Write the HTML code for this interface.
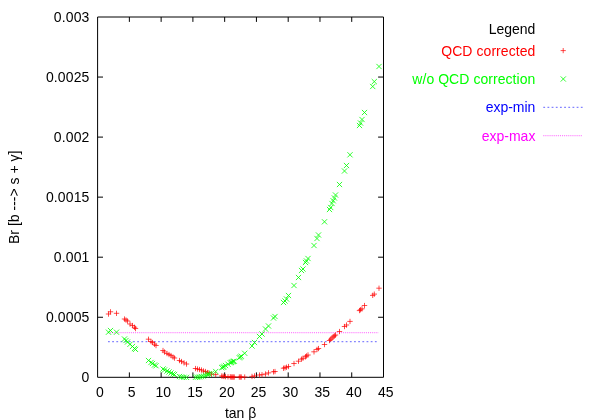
<!DOCTYPE html>
<html><head><meta charset="utf-8"><title>Br [b -> s + gamma] vs tan beta</title>
<style>html,body{margin:0;padding:0;background:#fff;}body{width:600px;height:420px;overflow:hidden;}svg{display:block;will-change:transform;opacity:0.999;}text{font-family:"Liberation Sans",sans-serif;font-size:14px;}</style>
</head><body>
<svg width="600" height="420" viewBox="0 0 600 420">
<rect x="0" y="0" width="600" height="420" fill="#ffffff"/>
<g fill="none" stroke-width="1.2">
<path d="M108 332.7H378.6" stroke="#ff30ff" stroke-dasharray="1.04 1.04" stroke-opacity="0.62"/>
<path d="M108 341.7H378.6" stroke="#3030ff" stroke-dasharray="1.8 2.37" stroke-opacity="0.6"/>
</g>
<path d="M97.6 17.0H383.5V377.3H97.6ZM129.37 377.3v-4.9M129.37 17.0v4.9M161.13 377.3v-4.9M161.13 17.0v4.9M192.90 377.3v-4.9M192.90 17.0v4.9M224.67 377.3v-4.9M224.67 17.0v4.9M256.43 377.3v-4.9M256.43 17.0v4.9M288.20 377.3v-4.9M288.20 17.0v4.9M319.97 377.3v-4.9M319.97 17.0v4.9M351.73 377.3v-4.9M351.73 17.0v4.9M97.6 317.25h5.4M383.5 317.25h-5.4M97.6 257.20h5.4M383.5 257.20h-5.4M97.6 197.15h5.4M383.5 197.15h-5.4M97.6 137.10h5.4M383.5 137.10h-5.4M97.6 77.05h5.4M383.5 77.05h-5.4" fill="none" stroke="#000" stroke-width="1"/>
<path d="M105.8 314.0h5.4M108.5 311.4v5.3M107.8 311.8h5.4M110.5 309.2v5.3M113.8 313.3h5.4M116.5 310.7v5.3M121.8 319.0h5.4M124.5 316.4v5.3M123.3 320.0h5.4M126.0 317.4v5.3M124.8 321.0h5.4M127.5 318.4v5.3M127.3 324.0h5.4M130.0 321.4v5.3M129.8 325.5h5.4M132.5 322.9v5.3M131.8 327.2h5.4M134.5 324.6v5.3M132.8 328.5h5.4M135.5 325.9v5.3M145.8 339.2h5.4M148.5 336.6v5.3M148.3 341.5h5.4M151.0 338.9v5.3M149.8 342.5h5.4M152.5 339.9v5.3M151.8 344.2h5.4M154.5 341.6v5.3M153.3 345.5h5.4M156.0 342.9v5.3M160.3 350.5h5.4M163.0 347.9v5.3M161.8 352.0h5.4M164.5 349.4v5.3M164.3 353.5h5.4M167.0 350.9v5.3M166.3 354.5h5.4M169.0 351.9v5.3M168.3 355.5h5.4M171.0 352.9v5.3M170.3 357.0h5.4M173.0 354.4v5.3M171.8 358.0h5.4M174.5 355.4v5.3M176.8 360.5h5.4M179.5 357.9v5.3M178.8 361.5h5.4M181.5 358.9v5.3M181.3 362.8h5.4M184.0 360.2v5.3M183.8 364.0h5.4M186.5 361.4v5.3M192.8 368.5h5.4M195.5 365.9v5.3M194.8 369.0h5.4M197.5 366.4v5.3M196.8 369.5h5.4M199.5 366.9v5.3M198.8 370.0h5.4M201.5 367.4v5.3M200.8 371.0h5.4M203.5 368.4v5.3M202.8 371.5h5.4M205.5 368.9v5.3M204.8 372.5h5.4M207.5 369.9v5.3M206.3 373.0h5.4M209.0 370.4v5.3M208.8 374.0h5.4M211.5 371.4v5.3M213.0 374.6h5.4M215.7 372.0v5.3M219.0 376.0h5.4M221.7 373.4v5.3M220.3 376.2h5.4M223.0 373.6v5.3M221.3 376.4h5.4M224.0 373.8v5.3M222.8 376.6h5.4M225.5 374.0v5.3M225.3 376.8h5.4M228.0 374.2v5.3M227.6 376.9h5.4M230.3 374.2v5.3M228.6 377.0h5.4M231.3 374.4v5.3M229.6 377.0h5.4M232.3 374.4v5.3M230.6 377.0h5.4M233.3 374.4v5.3M231.6 377.0h5.4M234.3 374.4v5.3M236.6 377.0h5.4M239.3 374.4v5.3M237.6 377.0h5.4M240.3 374.4v5.3M238.6 377.0h5.4M241.3 374.4v5.3M242.0 377.0h5.4M244.7 374.4v5.3M249.3 376.4h5.4M252.0 373.8v5.3M251.8 375.9h5.4M254.5 373.3v5.3M256.8 375.0h5.4M259.5 372.4v5.3M259.3 374.7h5.4M262.0 372.1v5.3M262.8 374.0h5.4M265.5 371.4v5.3M265.8 372.9h5.4M268.5 370.2v5.3M270.8 371.8h5.4M273.5 369.2v5.3M272.3 371.5h5.4M275.0 368.9v5.3M280.8 368.2h5.4M283.5 365.6v5.3M282.3 367.8h5.4M285.0 365.2v5.3M283.8 367.2h5.4M286.5 364.6v5.3M285.8 366.5h5.4M288.5 363.9v5.3M291.3 363.5h5.4M294.0 360.9v5.3M295.8 361.2h5.4M298.5 358.6v5.3M298.8 359.2h5.4M301.5 356.5v5.3M300.3 358.3h5.4M303.0 355.6v5.3M302.8 356.8h5.4M305.5 354.2v5.3M303.8 355.9h5.4M306.5 353.3v5.3M305.3 355.0h5.4M308.0 352.3v5.3M311.3 351.8h5.4M314.0 349.2v5.3M314.3 349.5h5.4M317.0 346.8v5.3M315.8 348.5h5.4M318.5 345.9v5.3M321.8 344.5h5.4M324.5 341.9v5.3M326.8 340.5h5.4M329.5 337.9v5.3M328.0 339.3h5.4M330.7 336.7v5.3M329.3 338.0h5.4M332.0 335.4v5.3M330.5 336.9h5.4M333.2 334.2v5.3M331.7 335.9h5.4M334.4 333.2v5.3M332.8 335.0h5.4M335.5 332.4v5.3M336.8 331.5h5.4M339.5 328.9v5.3M341.8 326.5h5.4M344.5 323.9v5.3M343.8 325.0h5.4M346.5 322.4v5.3M347.3 321.4h5.4M350.0 318.8v5.3M356.8 310.6h5.4M359.5 307.9v5.3M357.8 309.8h5.4M360.5 307.1v5.3M359.3 308.8h5.4M362.0 306.2v5.3M361.8 305.5h5.4M364.5 302.9v5.3M370.0 295.4h5.4M372.7 292.7v5.3M371.6 294.1h5.4M374.3 291.5v5.3M376.3 288.2h5.4M379.0 285.6v5.3" fill="none" stroke="#ff0000" stroke-width="1" stroke-opacity="0.7"/>
<path d="M105.9 329.6l5.2 5.2M105.9 334.8l5.2 -5.2M107.9 327.9l5.2 5.2M107.9 333.1l5.2 -5.2M113.9 329.6l5.2 5.2M113.9 334.8l5.2 -5.2M121.9 336.4l5.2 5.2M121.9 341.6l5.2 -5.2M123.4 337.9l5.2 5.2M123.4 343.1l5.2 -5.2M124.9 339.4l5.2 5.2M124.9 344.6l5.2 -5.2M127.4 341.7l5.2 5.2M127.4 346.9l5.2 -5.2M129.9 343.9l5.2 5.2M129.9 349.1l5.2 -5.2M131.9 345.9l5.2 5.2M131.9 351.1l5.2 -5.2M132.9 346.8l5.2 5.2M132.9 352.0l5.2 -5.2M145.9 357.9l5.2 5.2M145.9 363.1l5.2 -5.2M148.4 359.9l5.2 5.2M148.4 365.1l5.2 -5.2M149.9 360.9l5.2 5.2M149.9 366.1l5.2 -5.2M151.9 362.4l5.2 5.2M151.9 367.6l5.2 -5.2M153.4 363.1l5.2 5.2M153.4 368.4l5.2 -5.2M160.4 366.4l5.2 5.2M160.4 371.6l5.2 -5.2M161.9 367.4l5.2 5.2M161.9 372.6l5.2 -5.2M164.4 368.4l5.2 5.2M164.4 373.6l5.2 -5.2M166.4 369.4l5.2 5.2M166.4 374.6l5.2 -5.2M168.4 370.4l5.2 5.2M168.4 375.6l5.2 -5.2M170.4 371.4l5.2 5.2M170.4 376.6l5.2 -5.2M171.9 371.9l5.2 5.2M171.9 377.1l5.2 -5.2M176.9 373.9l5.2 5.2M176.9 379.1l5.2 -5.2M178.9 374.4l5.2 5.2M178.9 379.6l5.2 -5.2M181.4 374.7l5.2 5.2M181.4 379.9l5.2 -5.2M183.9 374.8l5.2 5.2M183.9 380.0l5.2 -5.2M192.9 374.7l5.2 5.2M192.9 379.9l5.2 -5.2M194.9 374.6l5.2 5.2M194.9 379.8l5.2 -5.2M196.9 374.4l5.2 5.2M196.9 379.7l5.2 -5.2M198.9 374.0l5.2 5.2M198.9 379.2l5.2 -5.2M200.9 373.5l5.2 5.2M200.9 378.7l5.2 -5.2M202.9 372.6l5.2 5.2M202.9 377.9l5.2 -5.2M204.9 371.9l5.2 5.2M204.9 377.1l5.2 -5.2M206.4 371.4l5.2 5.2M206.4 376.6l5.2 -5.2M208.9 370.7l5.2 5.2M208.9 375.9l5.2 -5.2M213.1 368.9l5.2 5.2M213.1 374.1l5.2 -5.2M219.1 365.0l5.2 5.2M219.1 370.2l5.2 -5.2M220.4 364.6l5.2 5.2M220.4 369.8l5.2 -5.2M221.4 364.0l5.2 5.2M221.4 369.2l5.2 -5.2M222.9 362.9l5.2 5.2M222.9 368.1l5.2 -5.2M225.4 361.6l5.2 5.2M225.4 366.8l5.2 -5.2M227.7 360.2l5.2 5.2M227.7 365.5l5.2 -5.2M228.7 359.8l5.2 5.2M228.7 365.0l5.2 -5.2M229.7 359.2l5.2 5.2M229.7 364.5l5.2 -5.2M230.7 358.8l5.2 5.2M230.7 364.0l5.2 -5.2M231.7 358.6l5.2 5.2M231.7 363.8l5.2 -5.2M236.7 355.2l5.2 5.2M236.7 360.4l5.2 -5.2M237.7 354.4l5.2 5.2M237.7 359.6l5.2 -5.2M238.7 353.6l5.2 5.2M238.7 358.8l5.2 -5.2M242.1 350.7l5.2 5.2M242.1 355.9l5.2 -5.2M249.4 343.4l5.2 5.2M249.4 348.6l5.2 -5.2M251.9 339.9l5.2 5.2M251.9 345.1l5.2 -5.2M256.9 333.9l5.2 5.2M256.9 339.1l5.2 -5.2M259.4 331.4l5.2 5.2M259.4 336.6l5.2 -5.2M262.9 326.4l5.2 5.2M262.9 331.6l5.2 -5.2M265.9 323.4l5.2 5.2M265.9 328.6l5.2 -5.2M270.9 315.4l5.2 5.2M270.9 320.6l5.2 -5.2M272.4 313.9l5.2 5.2M272.4 319.1l5.2 -5.2M280.9 299.9l5.2 5.2M280.9 305.1l5.2 -5.2M282.4 298.4l5.2 5.2M282.4 303.6l5.2 -5.2M283.9 296.4l5.2 5.2M283.9 301.6l5.2 -5.2M285.9 292.9l5.2 5.2M285.9 298.1l5.2 -5.2M291.4 282.9l5.2 5.2M291.4 288.1l5.2 -5.2M295.9 274.9l5.2 5.2M295.9 280.1l5.2 -5.2M298.9 267.9l5.2 5.2M298.9 273.1l5.2 -5.2M300.4 266.4l5.2 5.2M300.4 271.6l5.2 -5.2M302.9 259.9l5.2 5.2M302.9 265.1l5.2 -5.2M303.9 258.4l5.2 5.2M303.9 263.6l5.2 -5.2M305.4 255.9l5.2 5.2M305.4 261.1l5.2 -5.2M311.4 242.9l5.2 5.2M311.4 248.1l5.2 -5.2M314.4 235.9l5.2 5.2M314.4 241.1l5.2 -5.2M315.9 232.4l5.2 5.2M315.9 237.6l5.2 -5.2M321.9 219.2l5.2 5.2M321.9 224.4l5.2 -5.2M326.9 206.9l5.2 5.2M326.9 212.1l5.2 -5.2M328.1 204.9l5.2 5.2M328.1 210.1l5.2 -5.2M329.4 200.9l5.2 5.2M329.4 206.1l5.2 -5.2M330.6 198.2l5.2 5.2M330.6 203.4l5.2 -5.2M331.8 195.4l5.2 5.2M331.8 200.6l5.2 -5.2M332.9 192.4l5.2 5.2M332.9 197.6l5.2 -5.2M336.9 181.9l5.2 5.2M336.9 187.1l5.2 -5.2M341.9 168.4l5.2 5.2M341.9 173.6l5.2 -5.2M343.9 162.9l5.2 5.2M343.9 168.1l5.2 -5.2M347.4 152.2l5.2 5.2M347.4 157.4l5.2 -5.2M356.9 122.9l5.2 5.2M356.9 128.1l5.2 -5.2M357.9 120.4l5.2 5.2M357.9 125.6l5.2 -5.2M359.4 116.9l5.2 5.2M359.4 122.1l5.2 -5.2M361.9 109.9l5.2 5.2M361.9 115.1l5.2 -5.2M370.1 83.9l5.2 5.2M370.1 89.1l5.2 -5.2M371.7 79.0l5.2 5.2M371.7 84.2l5.2 -5.2M376.4 63.9l5.2 5.2M376.4 69.1l5.2 -5.2" fill="none" stroke="#00ff00" stroke-width="1" stroke-opacity="0.8"/>
<g text-anchor="end" fill="#000">
<text transform="translate(89.5 382.0) scale(1 1.070)" letter-spacing="0.13">0</text>
<text transform="translate(89.5 321.9) scale(1 1.070)" letter-spacing="0.13">0.0005</text>
<text transform="translate(89.5 261.9) scale(1 1.070)" letter-spacing="0.13">0.001</text>
<text transform="translate(89.5 201.8) scale(1 1.070)" letter-spacing="0.13">0.0015</text>
<text transform="translate(89.5 141.8) scale(1 1.070)" letter-spacing="0.13">0.002</text>
<text transform="translate(89.5 81.8) scale(1 1.070)" letter-spacing="0.13">0.0025</text>
<text transform="translate(89.5 21.7) scale(1 1.070)" letter-spacing="0.13">0.003</text>
</g>
<g text-anchor="middle" fill="#000">
<text transform="translate(99.8 396.7) scale(1 1.070)">0</text>
<text transform="translate(131.6 396.7) scale(1 1.070)">5</text>
<text transform="translate(163.3 396.7) scale(1 1.070)">10</text>
<text transform="translate(195.1 396.7) scale(1 1.070)">15</text>
<text transform="translate(226.9 396.7) scale(1 1.070)">20</text>
<text transform="translate(258.6 396.7) scale(1 1.070)">25</text>
<text transform="translate(290.4 396.7) scale(1 1.070)">30</text>
<text transform="translate(322.2 396.7) scale(1 1.070)">35</text>
<text transform="translate(353.9 396.7) scale(1 1.070)">40</text>
<text transform="translate(385.7 396.7) scale(1 1.070)">45</text>
<text transform="translate(240.6 417.5) scale(1 1.070)">tan &#946;</text>
<text transform="translate(19.2 197.3) rotate(-90)">Br [b ---&gt; s + &#947;]</text>
</g>
<g text-anchor="end">
<text transform="translate(535.4 34.2) scale(1 1.070)" fill="#000">Legend</text>
<text transform="translate(535.4 55.8) scale(1 1.070)" fill="#ff0000" letter-spacing="0.07">QCD corrected</text>
<text transform="translate(535.4 84.1) scale(1 1.070)" fill="#00ff00" letter-spacing="0.06">w/o QCD correction</text>
<text transform="translate(535.4 112.4) scale(1 1.070)" fill="#0000ff">exp-min</text>
<text transform="translate(535.4 140.9) scale(1 1.070)" fill="#ff00ff">exp-max</text>
</g>
<path d="M560.6 50.6h5.2M563.2 48.0v5.2" fill="none" stroke="#ff0000" stroke-width="1" stroke-opacity="0.7"/>
<path d="M560.7 76.4l5.2 5.2M560.7 81.6l5.2 -5.2" fill="none" stroke="#00ff00" stroke-width="1" stroke-opacity="0.8"/>
<path d="M543.3 107.3H583.3" fill="none" stroke="#3030ff" stroke-width="1.2" stroke-dasharray="1.8 2.37" stroke-opacity="0.6"/>
<path d="M543.3 135.7H582.5" fill="none" stroke="#ff30ff" stroke-width="1.2" stroke-dasharray="1.04 1.04" stroke-opacity="0.62"/>
</svg>
</body></html>
